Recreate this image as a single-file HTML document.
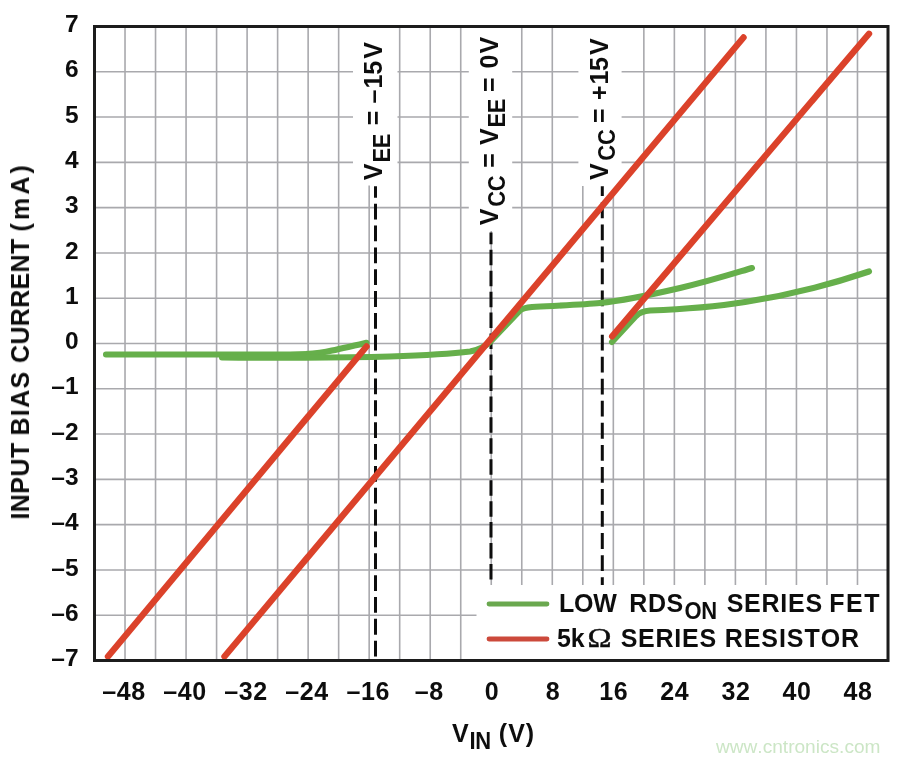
<!DOCTYPE html>
<html><head><meta charset="utf-8"><title>chart</title>
<style>html,body{margin:0;padding:0;background:#fff;}body{width:900px;height:762px;overflow:hidden;}svg{display:block;}text{font-family:"Liberation Sans",sans-serif;font-weight:bold;fill:#111;font-kerning:none;}</style></head><body>
<svg width="900" height="762" viewBox="0 0 900 762">
<defs><filter id="soft" x="0" y="0" width="900" height="762" filterUnits="userSpaceOnUse"><feGaussianBlur stdDeviation="0.6"/></filter></defs>
<rect x="0" y="0" width="900" height="762" fill="#ffffff"/>
<g filter="url(#soft)">
<path d="M125.02 26.5 V660.5 M155.54 26.5 V660.5 M186.06 26.5 V660.5 M216.58 26.5 V660.5 M247.10 26.5 V660.5 M277.62 26.5 V660.5 M308.13 26.5 V660.5 M338.65 26.5 V660.5 M369.17 26.5 V660.5 M399.69 26.5 V660.5 M430.21 26.5 V660.5 M460.73 26.5 V660.5 M491.25 26.5 V660.5 M521.77 26.5 V660.5 M552.29 26.5 V660.5 M582.81 26.5 V660.5 M613.33 26.5 V660.5 M643.85 26.5 V660.5 M674.37 26.5 V660.5 M704.88 26.5 V660.5 M735.40 26.5 V660.5 M765.92 26.5 V660.5 M796.44 26.5 V660.5 M826.96 26.5 V660.5 M857.48 26.5 V660.5 M94.5 71.79 H888.0 M94.5 117.07 H888.0 M94.5 162.36 H888.0 M94.5 207.64 H888.0 M94.5 252.93 H888.0 M94.5 298.21 H888.0 M94.5 343.50 H888.0 M94.5 388.79 H888.0 M94.5 434.07 H888.0 M94.5 479.36 H888.0 M94.5 524.64 H888.0 M94.5 569.93 H888.0 M94.5 615.21 H888.0" stroke="#a9a9ad" stroke-width="1.6" fill="none"/>
<rect x="353" y="28" width="44.5" height="157.5" fill="#fff"/>
<rect x="468.8" y="28" width="43.4" height="203" fill="#fff"/>
<rect x="578.4" y="28" width="43.2" height="158" fill="#fff"/>
<rect x="608" y="185" width="13.6" height="8.5" fill="#fff"/>
<g stroke="#0a0a0a" stroke-width="3" fill="none">
<path d="M375.5 186.2 V660" stroke-dasharray="15.8 6.05" stroke-dashoffset="4.35"/>
<path d="M491 232.5 V660" stroke-dasharray="15.5 5.45" stroke-dashoffset="3.7"/>
<path d="M602.3 186.2 V660" stroke-dasharray="15.8 6.25" stroke-dashoffset="5.9"/>
</g>
<g stroke="#66af4b" stroke-width="6.1" fill="none" stroke-linecap="round" stroke-linejoin="round">
<path d="M106 354.5 L290 354.5 C310 354.5 322 353 332 350.5 C345 347.5 358 345 366.5 342.8"/>
<path d="M222 357.5 C280 358 340 358 390 356.5 C420 355.5 450 354 470 351.5 C480 350 486 346 491 341 L520 310.5 C523 308 526 307.5 532 307 C560 305.5 585 304.5 600 303 C620 301 650 295 680 288 C710 281 735 273 752 268"/>
<path d="M612 342 L636 316 C640 312 644 311 650 310.5 C690 309 720 306 745 302 C790 295 835 283 869 271.5"/>
</g>
<g stroke="#db422c" stroke-width="6.4" fill="none" stroke-linecap="round">
<path d="M108 656.5 L366.5 346.5"/>
<path d="M224.5 656.5 L743.5 37.5"/>
<path d="M612.2 336.3 L869 33.8"/>
</g>
<rect x="476.5" y="585" width="411" height="74.5" fill="#fff"/>
<path d="M489 604 H547" stroke="#6aa84f" stroke-width="4.8" stroke-linecap="round"/>
<path d="M489 639 H547" stroke="#cc4a3a" stroke-width="4.8" stroke-linecap="round"/>
<rect x="94.5" y="26.5" width="793.5" height="634.0" fill="none" stroke="#1c1c1c" stroke-width="3"/>
<text x="78.6" y="32.20" font-size="24.5" text-anchor="end">7</text>
<text x="78.6" y="77.49" font-size="24.5" text-anchor="end">6</text>
<text x="78.6" y="122.77" font-size="24.5" text-anchor="end">5</text>
<text x="78.6" y="168.06" font-size="24.5" text-anchor="end">4</text>
<text x="78.6" y="213.34" font-size="24.5" text-anchor="end">3</text>
<text x="78.6" y="258.63" font-size="24.5" text-anchor="end">2</text>
<text x="78.6" y="303.91" font-size="24.5" text-anchor="end">1</text>
<text x="78.6" y="349.20" font-size="24.5" text-anchor="end">0</text>
<text x="78.6" y="394.49" font-size="24.5" text-anchor="end">–1</text>
<text x="78.6" y="439.77" font-size="24.5" text-anchor="end">–2</text>
<text x="78.6" y="485.06" font-size="24.5" text-anchor="end">–3</text>
<text x="78.6" y="530.34" font-size="24.5" text-anchor="end">–4</text>
<text x="78.6" y="575.63" font-size="24.5" text-anchor="end">–5</text>
<text x="78.6" y="620.91" font-size="24.5" text-anchor="end">–6</text>
<text x="78.6" y="666.20" font-size="24.5" text-anchor="end">–7</text>
<text x="124.02" y="700" font-size="25" text-anchor="middle" letter-spacing="0.6">–48</text>
<text x="185.06" y="700" font-size="25" text-anchor="middle" letter-spacing="0.6">–40</text>
<text x="246.10" y="700" font-size="25" text-anchor="middle" letter-spacing="0.6">–32</text>
<text x="307.13" y="700" font-size="25" text-anchor="middle" letter-spacing="0.6">–24</text>
<text x="368.17" y="700" font-size="25" text-anchor="middle" letter-spacing="0.6">–16</text>
<text x="429.21" y="700" font-size="25" text-anchor="middle" letter-spacing="0.6">–8</text>
<text x="491.75" y="700" font-size="25" text-anchor="middle">0</text>
<text x="552.79" y="700" font-size="25" text-anchor="middle">8</text>
<text x="613.83" y="700" font-size="25" text-anchor="middle" letter-spacing="0.6">16</text>
<text x="674.87" y="700" font-size="25" text-anchor="middle" letter-spacing="0.6">24</text>
<text x="735.90" y="700" font-size="25" text-anchor="middle" letter-spacing="0.6">32</text>
<text x="796.94" y="700" font-size="25" text-anchor="middle" letter-spacing="0.6">40</text>
<text x="857.98" y="700" font-size="25" text-anchor="middle" letter-spacing="0.6">48</text>
<g transform="translate(29.0 518.3) rotate(-90)">
<text x="-1.27" y="0" font-size="25" letter-spacing="0.44">INPUT</text>
<text x="82.73" y="0" font-size="25" letter-spacing="1.34">BIAS</text>
<text x="155.37" y="0" font-size="25" letter-spacing="0.31">CURRENT</text>
<text x="286.85" y="0" font-size="25" letter-spacing="3.12">(mA)</text>
</g>
<g transform="translate(0 742.3)">
<text x="451.93" y="0" font-size="25">V</text>
<text transform="translate(469.41 6.9) scale(0.94 1)" font-size="23.40" letter-spacing="-0.32">IN</text>
<text x="498.85" y="0" font-size="25" letter-spacing="0.98">(V)</text>
</g>
<g transform="translate(382.3 180.4) rotate(-90)">
<text x="0.23" y="0" font-size="25">V</text>
<text transform="translate(17.87 7.2) scale(0.94 1)" font-size="23.40" letter-spacing="-0.32">EE</text>
<text x="55.26" y="0" font-size="25">=</text>
<text x="76.94" y="0" font-size="25">–</text>
<text x="92.01" y="0" font-size="25" letter-spacing="-0.30">15</text>
<text x="121.63" y="0" font-size="25">V</text>
</g>
<g transform="translate(498.0 225.5) rotate(-90)">
<text x="0.23" y="0" font-size="25">V</text>
<text transform="translate(18.76 7.2) scale(0.94 1)" font-size="23.40" letter-spacing="-0.32">CC</text>
<text x="57.66" y="0" font-size="25">=</text>
<text x="80.53" y="0" font-size="25">V</text>
<text transform="translate(97.93 7.2) scale(0.94 1)" font-size="23.40" letter-spacing="-0.23">EE</text>
<text x="133.56" y="0" font-size="25">=</text>
<text x="157.01" y="0" font-size="25">0</text>
<text x="172.03" y="0" font-size="25">V</text>
</g>
<g transform="translate(607.6 180.1) rotate(-90)">
<text x="0.23" y="0" font-size="25">V</text>
<text transform="translate(19.46 7.2) scale(0.94 1)" font-size="23.40" letter-spacing="-0.32">CC</text>
<text x="57.06" y="0" font-size="25">=</text>
<text x="80.15" y="0" font-size="25">+</text>
<text x="95.51" y="0" font-size="25" letter-spacing="-0.30">15</text>
<text x="125.13" y="0" font-size="25">V</text>
</g>
<g transform="translate(0.6 611.7)">
<text x="558.52" y="0" font-size="25" letter-spacing="-0.30">LOW</text>
<text x="628.73" y="0" font-size="25" letter-spacing="0.53">RDS</text>
<text transform="translate(683.94 7.7) scale(0.94 1)" font-size="23.40" letter-spacing="-0.32">ON</text>
<text x="726.08" y="0" font-size="25" letter-spacing="0.76">SERIES</text>
<text x="828.73" y="0" font-size="25" letter-spacing="1.46">FET</text>
</g>
<g transform="translate(0 646.8)">
<text x="557.05" y="0" font-size="25" letter-spacing="-0.30">5k</text>
<text x="620.68" y="0" font-size="25" letter-spacing="0.74">SERIES</text>
<text x="724.73" y="0" font-size="25" letter-spacing="0.94">RESISTOR</text>
</g>
<text transform="translate(587.5 646.8) scale(1.22 1)" font-size="26.5" style="font-family:'Liberation Serif',serif;font-weight:normal;stroke:#111;stroke-width:0.5">Ω</text>
<text x="716" y="753.1" font-size="19.1" style="font-weight:normal;fill:#cce6c6">www.cntronics.com</text>
</g>
</svg></body></html>
